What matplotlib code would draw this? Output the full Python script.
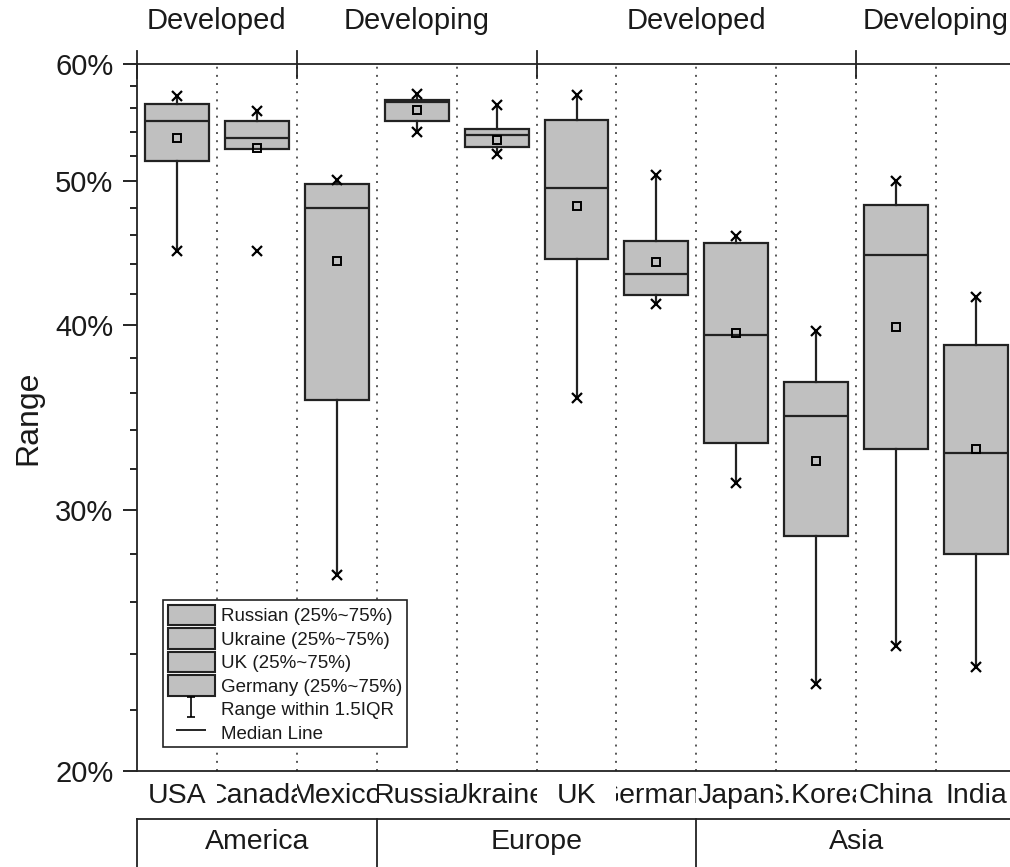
import numpy as np
import matplotlib
matplotlib.use("Agg")
import matplotlib.pyplot as plt
from matplotlib.patches import Patch
from matplotlib.lines import Line2D
from matplotlib.path import Path
from matplotlib import transforms as mtransforms
from matplotlib.ticker import FixedLocator, NullFormatter

plt.rcParams['font.family'] = ['Liberation Sans', 'DejaVu Sans']

# ---------------- data ----------------
countries = ['USA', 'Canada', 'Mexico', 'Russia', 'Ukraine', 'UK', 'Germany',
             'Japan', 'S.Korea', 'China', 'India']
q1 = [51.6, 52.6, 35.6, 54.9, 52.7, 44.3, 41.9, 33.3, 28.8, 33.0, 28.0]
med = [54.9, 53.5, 48.0, 56.6, 53.7, 49.5, 43.3, 39.4, 34.7, 44.6, 32.8]
q3 = [56.4, 54.9, 49.8, 56.7, 54.2, 55.0, 45.6, 45.4, 36.6, 48.2, 38.8]
mean = [53.5, 52.65, 44.2, 55.9, 53.3, 48.1, 44.1, 39.5, 32.4, 39.9, 33.0]
whis_lo = [44.9, 52.6, 27.1, 54.0, 52.2, 35.7, 41.3, 31.3, 22.9, 24.3, 23.5]
whis_hi = [57.1, 55.8, 50.1, 57.3, 56.3, 57.2, 50.5, 45.9, 39.6, 50.0, 41.8]
min_v = [44.9, 44.9, 27.1, 54.0, 52.2, 35.7, 41.3, 31.3, 22.9, 24.3, 23.5]
max_v = [57.1, 55.8, 50.1, 57.3, 56.3, 57.2, 50.5, 45.9, 39.6, 50.0, 41.8]

top_groups = ['Developed', 'Developing', 'Developed', 'Developing']
top_group_sizes = [2, 3, 4, 2]
bottom_groups = ['America', 'Europe', 'Asia']
bottom_group_sizes = [3, 4, 4]

y_major = [20, 30, 40, 50, 60]
y_minor = [22, 24, 26, 28, 32, 34, 36, 38, 42, 44, 46, 48, 52, 54, 56, 58]

legend_labels = ['Russian (25%~75%)', 'Ukraine (25%~75%)', 'UK (25%~75%)',
                 'Germany (25%~75%)', 'Range within 1.5IQR', 'Median Line']

# ---------------- figure ----------------
W, H = 1010, 867
fig = plt.figure(figsize=(W / 100, H / 100), dpi=100)
ax = fig.add_axes([137 / W, 1 - 771 / H, 879 / W, 707 / H])

TXT = '#1a1a1a'
EDGE = '#222222'
BOXFILL = '#c0c0c0'

n = len(countries)
pos = np.arange(n)

stats = []
for i in range(n):
    stats.append(dict(label=countries[i], q1=q1[i], med=med[i], q3=q3[i],
                      whislo=whis_lo[i], whishi=whis_hi[i], mean=mean[i],
                      fliers=[]))

ax.bxp(stats, positions=pos, widths=0.8, patch_artist=True, showmeans=True,
       meanline=False, showcaps=False, showfliers=False,
       boxprops=dict(facecolor=BOXFILL, edgecolor=EDGE, linewidth=1.6),
       medianprops=dict(color=EDGE, linewidth=1.6),
       whiskerprops=dict(color=EDGE, linewidth=1.6),
       meanprops=dict(marker='s', markerfacecolor='none',
                      markeredgecolor='black', markersize=6,
                      markeredgewidth=1.4),
       zorder=3)

ax.plot(pos, max_v, linestyle='none', marker='x', markersize=6.5,
        markeredgewidth=1.6, color='black', zorder=5)
ax.plot(pos, min_v, linestyle='none', marker='x', markersize=6.5,
        markeredgewidth=1.6, color='black', zorder=5)

# dotted separators between categories
for b in np.arange(0.5, n - 0.5, 1.0):
    ax.axvline(b, color='#555555', linewidth=1.4, linestyle=(0, (1, 3.2)),
               zorder=1)

ax.set_yscale('log')
ax.set_ylim(20, 60)
ax.set_xlim(-0.5, n - 0.5)
ax.yaxis.set_major_locator(FixedLocator(y_major))
ax.yaxis.set_minor_locator(FixedLocator(y_minor))
ax.set_yticklabels([f'{v}%' for v in y_major])
ax.yaxis.set_minor_formatter(NullFormatter())
ax.tick_params(axis='y', which='major', length=10, width=1.2, pad=7,
               labelsize=21, labelcolor=TXT, direction='out')
ax.tick_params(axis='y', which='minor', length=5, width=1.2, direction='out')
ax.set_xticks([])
ax.set_ylabel('Range', fontsize=23, color=TXT)
ax.yaxis.set_label_coords(-(137 - 43) / 879, 0.5)

for s in ['left', 'bottom', 'top']:
    ax.spines[s].set_linewidth(1.3)
    ax.spines[s].set_color('#222222')
ax.spines['right'].set_visible(False)

# top group ticks and labels
bl = mtransforms.blended_transform_factory(ax.transData, ax.transAxes)
bf = mtransforms.blended_transform_factory(ax.transData, fig.transFigure)
y_tick_top = (771 - 51) / 707
y_tick_bot = (771 - 78) / 707
bounds = [-0.5]
for s in top_group_sizes:
    bounds.append(bounds[-1] + s)
for b in bounds[:-1]:
    ax.add_line(Line2D([b, b], [y_tick_bot, y_tick_top], transform=bl,
                       color='#222222', linewidth=1.3, clip_on=False))
for i, g in enumerate(top_groups):
    cx = (bounds[i] + bounds[i + 1]) / 2
    fig.text(cx, 1 - 21 / H, g, transform=bf, ha='center', va='center',
             fontsize=21, color=TXT)

# category labels clipped to their cell
for i, c in enumerate(countries):
    t = fig.text(i, 1 - 796 / H, c, transform=bf, ha='center', va='center',
                 fontsize=20.5, color=TXT)
    bb = mtransforms.Bbox([[i - 0.5, 0.0], [i + 0.5, 1.0]])
    t.set_clip_box(mtransforms.TransformedBbox(bb, bf))
    t.set_clip_on(True)

# bottom region frame and labels
y_line = 1 - 819 / H
fig.add_artist(Line2D([-0.5, n - 0.5], [y_line, y_line], transform=bf,
                      color='#222222', linewidth=1.3))
bb_bounds = [-0.5]
for s in bottom_group_sizes:
    bb_bounds.append(bb_bounds[-1] + s)
for b in bb_bounds[:-1]:
    fig.add_artist(Line2D([b, b], [0, y_line], transform=bf,
                          color='#222222', linewidth=1.3))
for i, g in enumerate(bottom_groups):
    cx = (bb_bounds[i] + bb_bounds[i + 1]) / 2
    fig.text(cx, 1 - 842 / H, g, transform=bf, ha='center', va='center',
             fontsize=20.5, color=TXT)

# legend
range_path = Path([(-0.35, -1), (0.35, -1), (0, -1), (0, 1), (-0.35, 1), (0.35, 1)],
                  [Path.MOVETO, Path.LINETO, Path.MOVETO, Path.LINETO,
                   Path.MOVETO, Path.LINETO])
handles = [Patch(facecolor=BOXFILL, edgecolor=EDGE, linewidth=1.5) for _ in range(4)]
handles.append(Line2D([], [], linestyle='none', marker=range_path, markersize=15,
                      markeredgewidth=1.2, color='black'))
handles.append(Line2D([], [], linestyle='none', marker='_', markersize=21,
                      markeredgewidth=1.2, color='black'))
leg = fig.legend(handles, legend_labels, loc='upper left',
                 bbox_to_anchor=(163 / W, 1 - 600 / H),
                 bbox_transform=fig.transFigure, frameon=True, fancybox=False,
                 edgecolor='#222222', framealpha=1, borderaxespad=0,
                 borderpad=0.25, handlelength=2.5, handleheight=1.3,
                 labelspacing=0.16, handletextpad=0.35, fontsize=13.5,
                 labelcolor=TXT)
leg.get_frame().set_linewidth(1.2)

fig.savefig('out.png', dpi=100)
